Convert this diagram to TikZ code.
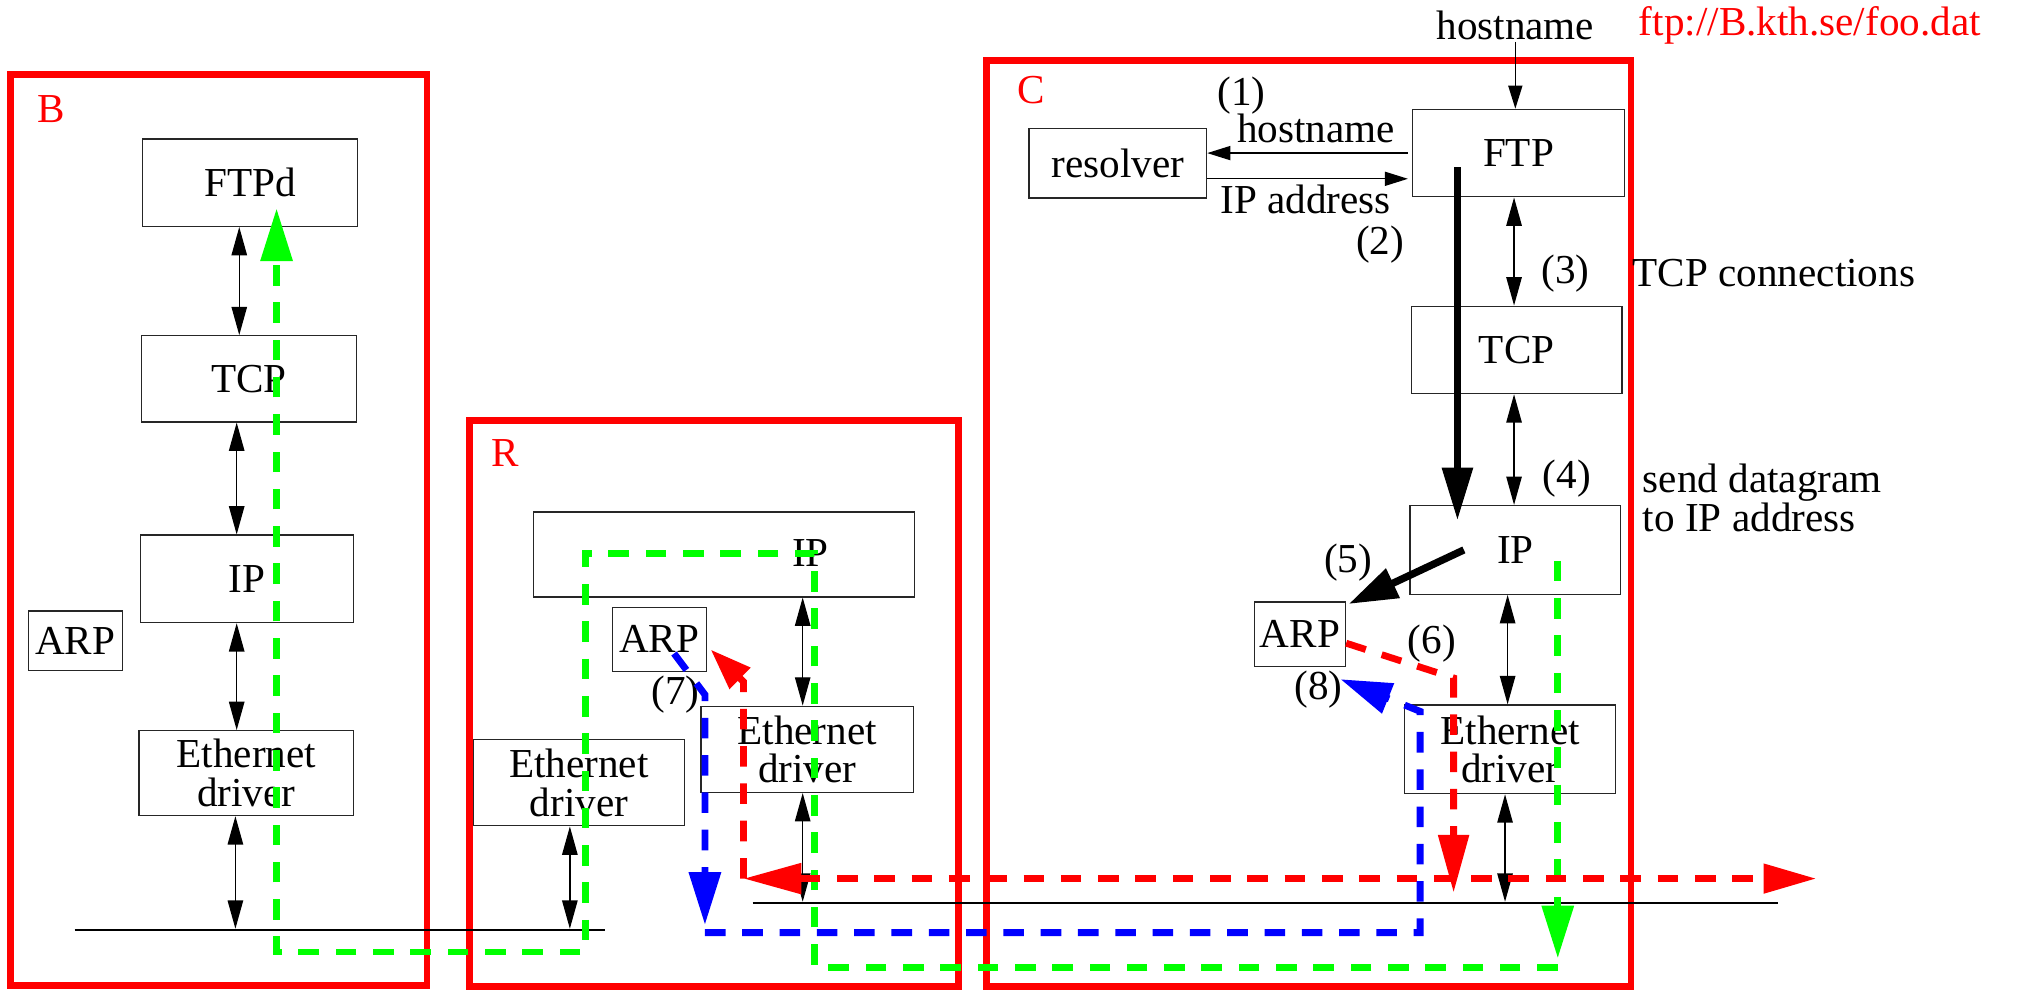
\documentclass[tikz,border=0pt]{standalone}
\usepackage{fontspec}
\setmainfont{Liberation Serif}
\usetikzlibrary{arrows.meta}
\definecolor{pgreen}{RGB}{0,255,0}
\definecolor{pred}{RGB}{255,0,0}
\definecolor{pblue}{RGB}{0,0,255}
\begin{document}
\begin{tikzpicture}[x=1pt,y=-1pt,
  font=\fontsize{32}{30}\selectfont,
  box/.style={draw=black!85, line width=1pt, inner sep=0pt, align=center},
  host/.style={draw=pred, line width=5.2pt, inner sep=0pt},
  lbl/.style={inner sep=1pt},
  hlbl/.style={inner sep=1pt, text=pred},
  net/.style={line width=1pt},
  dbl/.style={line width=1pt, {Triangle[length=22pt,width=12pt]}-{Triangle[length=22pt,width=12pt]}},
  sarrow/.style={line width=1pt, -{Triangle[length=18pt,width=11pt]}},
  thickarrow/.style={line width=5.7pt, -{Triangle[length=41pt,width=23pt]}},
  gdash/.style={draw=pgreen, line width=5.3pt, dash pattern=on 16pt off 13pt},
  rdash/.style={draw=pred, line width=5.3pt, dash pattern=on 16pt off 13pt},
  bdash/.style={draw=pblue, line width=5.3pt, dash pattern=on 16pt off 13pt},
  bigtip/.style={-{Triangle[length=41pt,width=24pt]}}
]
\useasboundingbox (0,0) rectangle (1568,769);

% ---------- host boxes ----------
\node[host, minimum width=324pt, minimum height=708pt] (hostB) at (170,412) {};
\node[host, minimum width=380pt, minimum height=440pt] (hostR) at (555,547) {};
\node[host, minimum width=501pt, minimum height=720pt] (hostC) at (1017.5,407) {};
\node[hlbl] (labB) at (40,85) {B};
\node[hlbl] (labR) at (393,352) {R};
\node[hlbl] (labC) at (802,70) {C};

% ---------- host B ----------
\node[box, minimum width=167pt, minimum height=68pt] (FTPd) at (194.5,142) {FTPd};
\node[box, minimum width=167pt, minimum height=67pt] (TCPb) at (193.5,294.5) {TCP};
\node[box, minimum width=166pt, minimum height=68pt] (IPb) at (192,450) {IP};
\node[box, minimum width=73pt, minimum height=46pt] (ARPb) at (58.5,498) {ARP};
\node[box, minimum width=167pt, minimum height=66pt] (ETHb) at (191.5,601) {Ethernet\\driver};

% ---------- router R ----------
\node[box, minimum width=296pt, minimum height=66pt] (IPr) at (563,431) {};
\node[lbl] (IPrt) at (630,430) {IP};
\node[box, minimum width=73pt, minimum height=50pt] (ARPr) at (512.5,497) {ARP};
\node[box, minimum width=164pt, minimum height=67pt] (ETHr1) at (450,608.5) {Ethernet\\driver};
\node[box, minimum width=165pt, minimum height=67pt] (ETHr2) at (627.5,582.5) {Ethernet\\driver};
\node[lbl] (l7) at (525,540) {(7)};

% ---------- host C ----------
\node[box, minimum width=165pt, minimum height=68pt] (FTPc) at (1180.5,119) {FTP};
\node[box, minimum width=138pt, minimum height=54pt] (RES) at (869,127) {resolver};
\node[box, minimum width=164pt, minimum height=68pt] (TCPc) at (1179,272) {TCP};
\node[box, minimum width=164pt, minimum height=69pt] (IPc) at (1178,427.5) {IP};
\node[box, minimum width=71pt, minimum height=50pt] (ARPc) at (1010.5,493) {ARP};
\node[box, minimum width=164pt, minimum height=69pt] (ETHc) at (1174,582.5) {Ethernet\\driver};

\node[lbl] (hn) at (1178,20) {hostname};
\node[hlbl] (url) at (1407,20) {ftp://B.kth.se/foo.dat};
\node[lbl] (l1) at (965,74) {(1)};
\node[lbl] (hn2) at (1023,100) {hostname};
\node[lbl] (ipa) at (1015,155) {IP address};
\node[lbl] (l2) at (1073,190) {(2)};
\node[lbl] (l3) at (1217,213) {(3)};
\node[lbl, anchor=west] (tcpc) at (1268,212) {TCP connections};
\node[lbl] (l4) at (1218,372) {(4)};
\node[lbl, anchor=west, align=left] (sdg) at (1276,387) {send datagram\\to IP address};
\node[lbl] (l5) at (1048,437) {(5)};
\node[lbl] (l6) at (1113,500) {(6)};
\node[lbl] (l8) at (1025,536) {(8)};

% ---------- networks ----------
\coordinate (n1a) at (58,723);
\coordinate (n1b) at (470,723);
\coordinate (n2a) at (585,702);
\coordinate (n2b) at (1382,702);
\draw[net] (n1a) -- (n1b);
\draw[net] (n2a) -- (n2b);
\coordinate (nB) at (183,722);
\coordinate (nR1) at (443,722);
\coordinate (nR2) at (624,701);
\coordinate (nC) at (1170,701);

% ---------- stack arrows ----------
\draw[dbl] ([xshift=-8.5pt]FTPd.south) -- ([xshift=-7.5pt]TCPb.north);
\draw[dbl] ([xshift=-9.5pt]TCPb.south) -- ([xshift=-8pt]IPb.north);
\draw[dbl] ([xshift=-8pt]IPb.south) -- ([xshift=-7.5pt]ETHb.north);
\draw[dbl] ([xshift=-8.5pt]ETHb.south) -- (nB);

\draw[dbl] ([xshift=61pt]IPr.south) -- ([xshift=-3.5pt]ETHr2.north);
\draw[dbl] ([xshift=-3.5pt]ETHr2.south) -- (nR2);
\draw[dbl] ([xshift=-7pt]ETHr1.south) -- (nR1);

\draw[dbl] ([xshift=-3.5pt]FTPc.south) -- ([xshift=-2pt]TCPc.north);
\draw[dbl] ([xshift=-2pt]TCPc.south) -- ([xshift=-1pt]IPc.north);
\draw[dbl] ([xshift=-6pt]IPc.south) -- ([xshift=-2pt]ETHc.north);
\draw[dbl] ([xshift=-4pt]ETHc.south) -- (nC);

\draw[sarrow] (hn.south) -- (hn.south |- FTPc.north);
\draw[sarrow] ([xshift=-3pt]FTPc.west) -- (FTPc.west -| RES.east);
\draw[sarrow] ([yshift=-12pt]RES.east) -- ([yshift=-12pt,xshift=-3pt]RES.east -| FTPc.west);

\draw[thickarrow] ([xshift=-47.5pt,yshift=-11pt]FTPc.center) -- ([xshift=-45pt,yshift=23pt]IPc.center);
\draw[line width=5.7pt, -{Triangle[length=38pt,width=24pt]}] ([xshift=-40pt]IPc.center) -- ([xshift=2pt,yshift=-2pt]ARPc.north east);

% ---------- packet paths ----------
\coordinate (gA) at (1211,436);
\coordinate (gB) at (1211,752);
\coordinate (gEnd) at (215,162);
\draw[gdash, bigtip] (gA) -- (1211,745);
\draw[gdash, bigtip] (gB) -- (633,752) -- (633,430) -- (455,430) -- (455,740) -- (215,740) -- (gEnd);

\coordinate (rL) at (578,683);
\coordinate (rR) at (1412,683);
\draw[rdash, -{Triangle[length=45pt,width=23pt]}] ([yshift=-7pt]ARPc.east) -- (1130,527) -- (1130,694);
\draw[rdash, {Triangle[length=45pt,width=23pt]}-{Triangle[length=41pt,width=22pt]}] (rL) -- (rR);
\draw[rdash, -{Triangle[length=32pt,width=22pt]}] (rL) -- (578,530) -- ([xshift=3pt,yshift=-8pt]ARPr.east);

\coordinate (bA) at (524,508);
\coordinate (bB) at (548,725);
\coordinate (bEnd) at (1042,528);
\draw[bdash, bigtip] (bA) -- (548,540) -- (548,719);
\draw[bdash, -{Triangle[length=40pt,width=24pt]}] (bB) -- (1104,725) -- (1104,553) -- (bEnd);
\end{tikzpicture}
\end{document}
